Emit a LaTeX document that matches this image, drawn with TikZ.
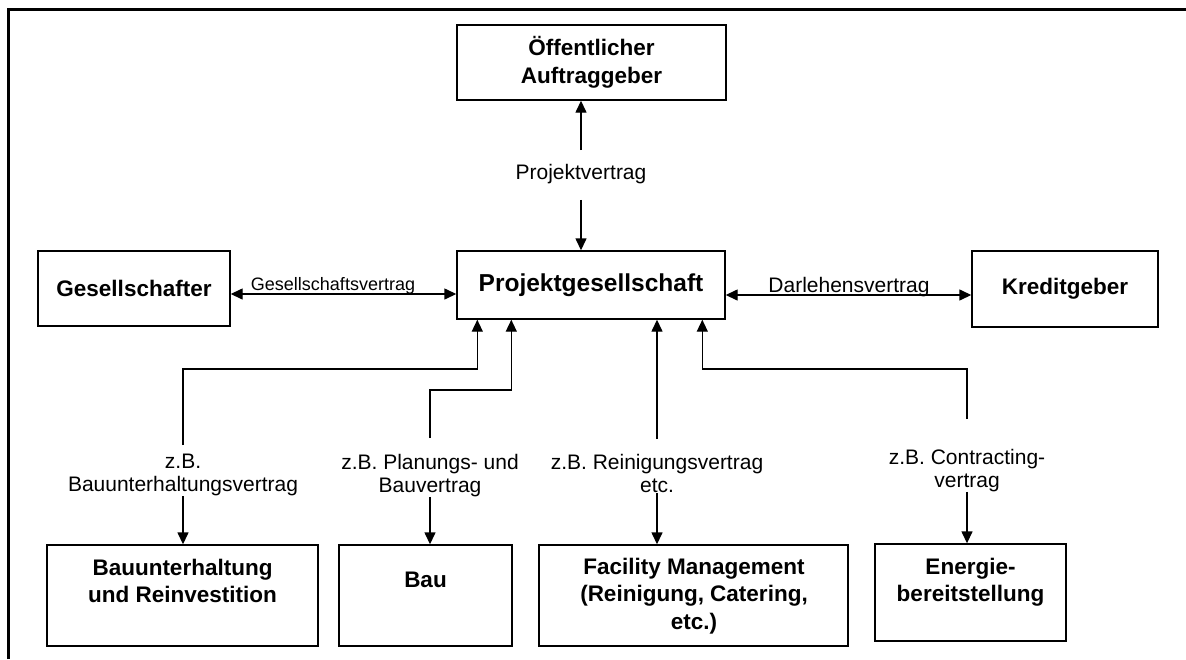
\documentclass[tikz,border=0pt]{standalone}
\usepackage{fontspec}
\setmainfont{Liberation Sans}
\usetikzlibrary{arrows.meta,calc}
\begin{document}
\begin{tikzpicture}[x=1pt,y=-1pt,
  box/.style={draw=black, line width=1.4pt, inner sep=0pt, font=\bfseries\fontsize{22.5}{28}\selectfont, align=center},
  btxt/.style={inner sep=0pt, font=\bfseries\fontsize{22.5}{27.5}\selectfont, align=center},
  lab/.style={inner sep=0pt, font=\fontsize{21}{23}\selectfont, align=center},
  con/.style={line width=1.4pt, -{Triangle[width=11pt,length=12pt]}},
  dcon/.style={line width=1.4pt, {Triangle[width=11pt,length=12pt]}-{Triangle[width=11pt,length=12pt]}}]
\useasboundingbox (0,0) rectangle (1186,659);
\fill[white] (0,0) rectangle (1186,659);
\draw[line width=3pt] (8,659) -- (8,9) -- (1186,9);

% boxes
\node[box, minimum width=269pt, minimum height=75pt] (oa) at (591.5,62.5) {Öffentlicher\\Auftraggeber};
\node[box, font=\bfseries\fontsize{24.5}{28}\selectfont, minimum width=268pt, minimum height=68pt] (pg) at (591,285) {Projektgesellschaft};
\node[box, minimum width=192pt, minimum height=75pt] (ge) at (134,288.5) {Gesellschafter};
\node[box, minimum width=186pt, minimum height=76pt] (kr) at (1065,289) {Kreditgeber};

\node[box, minimum width=271pt, minimum height=101pt] (bu) at (182.5,595.5) {};
\node[box, minimum width=173pt, minimum height=101pt] (ba) at (425.5,595.5) {};
\node[box, minimum width=309pt, minimum height=101pt] (fm) at (693.5,595.5) {};
\node[box, minimum width=191pt, minimum height=97pt] (en) at (970.5,592.5) {};
\node[btxt] (bu-t) at (182.5,581) {Bauunterhaltung\\und Reinvestition};
\node[btxt] (ba-t) at (425.5,580) {Bau};
\node[btxt] (fm-t) at (694,596) {Facility Management\\(Reinigung, Catering,\\etc.)};
\node[btxt] (en-t) at (970.5,582) {Energie-\\bereitstellung};

% labels
\node[lab, anchor=north] (pv) at (581,164) {Projektvertrag};
\node[lab, font=\fontsize{18}{21}\selectfont, anchor=base] (gv) at (333,290) {Gesellschaftsvertrag};
\node[lab, anchor=base] (dv) at (849,292) {Darlehensvertrag};
\node[lab, anchor=north] (l1) at (183,454) {z.B.\\Bauunterhaltungsvertrag};
\node[lab, anchor=north] (l2) at (430,454) {z.B. Planungs- und\\Bauvertrag};
\node[lab, anchor=north] (l3) at (657,454) {z.B. Reinigungsvertrag\\etc.};
\node[lab, anchor=north] (l4) at (967,449) {z.B. Contracting-\\vertrag};

% connectors
\draw[con] ([yshift=14pt]pv.north) -- (oa.south -| pv.north);
\draw[con] ([yshift=-16pt]pv.south) -- (pg.north -| pv.south);
\draw[dcon] ([yshift=-5.5pt]ge.east) -- ([yshift=-5.5pt]ge.east -| pg.west);
\draw[dcon] ([yshift=-6pt]kr.west) -- ([yshift=-6pt]kr.west -| pg.east);

\coordinate (p1) at ([xshift=21pt]pg.south west);
\coordinate (p2) at ([xshift=55pt]pg.south west);
\coordinate (p3) at ([xshift=200pt]pg.south west);
\coordinate (p4) at ([xshift=246pt]pg.south west);
\coordinate (h1) at (0,369);
\coordinate (h2) at (0,390);

\draw[con] ([yshift=9pt]l1.north) |- (p1 |- h1) -- (p1);
\draw[con] ([yshift=16pt]l2.north) |- (p2 |- h2) -- (p2);
\draw[con] ([yshift=15pt]l3.north) -- (l3.north |- p3);
\draw[con] ([yshift=30pt]l4.north) |- (p4 |- h1) -- (p4);

\draw[con] (l1.south) -- (l1.south |- bu.north);
\draw[con] (l2.south) -- (l2.south |- ba.north);
\draw[con] (l3.south) -- (l3.south |- fm.north);
\draw[con] (l4.south) -- (l4.south |- en.north);
\end{tikzpicture}
\end{document}
